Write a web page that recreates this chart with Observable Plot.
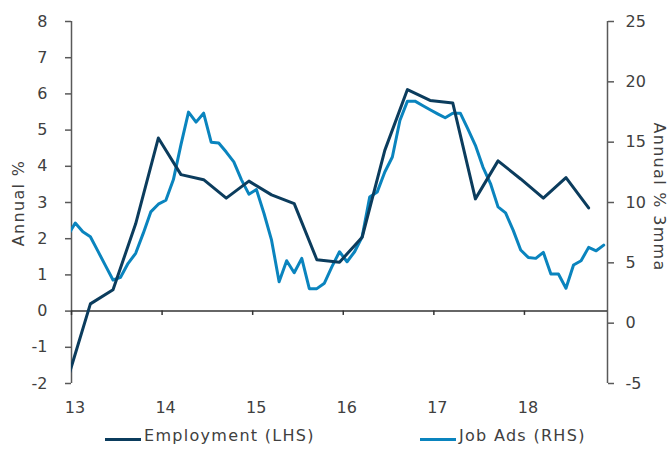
<!DOCTYPE html>
<html>
<head>
<meta charset="utf-8">
<script src="https://cdn.jsdelivr.net/npm/d3@7"></script>
<script src="https://cdn.jsdelivr.net/npm/@observablehq/plot@0.6"></script>
<style>
  html, body { margin: 0; padding: 0; background: #fff; }
  #wrap { position: relative; width: 668px; height: 450px; overflow: hidden; font-family: "DejaVu Sans", sans-serif; }
  .leg { position: absolute; top: 425px; height: 20px; display: flex; align-items: center; font-size: 16px; color: #404040; letter-spacing: 1.3px; white-space: nowrap; }
  .sw { width: 36px; height: 3px; margin-right: 3px; margin-top: 8px; }
</style>
</head>
<body>
<div id="wrap"></div>
<script>
// ---- Data ----
// Employment, annual % (LHS), quarterly
const employmentMonths = ["2012-12","2013-03","2013-06","2013-09","2013-12","2014-03","2014-06","2014-09","2014-12",
  "2015-03","2015-06","2015-09","2015-12","2016-03","2016-06","2016-09","2016-12",
  "2017-03","2017-06","2017-09","2017-12","2018-03","2018-06","2018-09"];
const employment = [-1.87, 0.2, 0.59, 2.41, 4.78, 3.77, 3.63, 3.12, 3.59,
  3.21, 2.97, 1.42, 1.35, 2.04, 4.44, 6.12, 5.82,
  5.75, 3.10, 4.15, 3.65, 3.12, 3.69, 2.85];

// Job Ads, annual % 3mma (RHS), monthly from Dec 2012
const jobAdsStart = "2012-12";
const jobAds = [7.25,
  8.3, 7.57, 7.16, 5.97, 4.77, 3.58, 3.8, 4.96, 5.79, 7.44, 9.22, 9.86,
  10.19, 11.9, 14.8, 17.49, 16.66, 17.4, 15.0, 14.93, 14.18, 13.36, 11.9, 10.69,
  11.07, 9.09, 6.88, 3.44, 5.17, 4.18, 5.37, 2.86, 2.86, 3.31, 4.68, 5.92,
  5.09, 5.92, 7.16, 10.46, 10.88, 12.53, 13.77, 16.8, 18.4, 18.4, 18.04, 17.69,
  17.35, 17.02, 17.4, 17.4, 16.1, 14.74, 12.94, 11.57, 9.64, 9.14, 7.71, 6.06,
  5.45, 5.37, 5.87, 4.07, 4.07, 2.89, 4.82, 5.17, 6.28, 6.0, 6.47];

const years = [2013, 2014, 2015, 2016, 2017, 2018];
const yearLabels = ["13", "14", "15", "16", "17", "18"];
const lhsTicks = [-2, -1, 0, 1, 2, 3, 4, 5, 6, 7, 8];
const rhsTicks = [-5, 0, 5, 10, 15, 20, 25];
const seriesNames = ["Employment (LHS)", "Job Ads (RHS)"];
const colors = ["#0b3c5d", "#0a84be"];

// ---- Helpers ----
const monthPos = s => { const [y, m] = s.split("-").map(Number); return y + (m - 0.5) / 12; };
const toL = w => (w + 5) / 3 - 2;     // RHS [-5,25] -> LHS [-2,8]
const fromL = v => (v + 2) * 3 - 5;

const empData = employmentMonths.map((m, i) => ({x: monthPos(m), y: employment[i]}));
const [sy, sm] = jobAdsStart.split("-").map(Number);
const jobData = jobAds.map((w, i) => {
  const mm = sm - 1 + i;
  const yy = sy + Math.floor(mm / 12);
  const mo = (mm % 12) + 1;
  return {x: monthPos(yy + "-" + String(mo).padStart(2, "0")), y: toL(w)};
});

const xDomain = [2013, 2013 + 71 / 12];

const chart = Plot.plot({
  width: 668,
  height: 425,
  marginLeft: 71,
  marginRight: 61,
  marginTop: 21,
  marginBottom: 42,
  x: {domain: xDomain},
  y: {domain: [-2, 8]},
  style: {fontFamily: "DejaVu Sans, sans-serif", fontSize: "16px", color: "#404040", background: "#fff"},
  marks: [
    Plot.axisY({anchor: "left", ticks: lhsTicks, tickFormat: d => String(d), tickSize: 6, tickPadding: 18, label: null, stroke: "#595959", strokeWidth: 1.5}),
    Plot.axisY({anchor: "right", ticks: rhsTicks.map(toL), tickFormat: d => String(Math.round(fromL(d))), tickSize: 6, tickPadding: 12, label: null, stroke: "#595959", strokeWidth: 1.5}),
    Plot.axisX({anchor: "bottom", ticks: years, tickFormat: d => yearLabels[years.indexOf(d)], tickSize: 0, tickPadding: 18, dx: 3.5, label: null}),
    Plot.ruleX([xDomain[0]], {stroke: "#595959", strokeWidth: 1.5}),
    Plot.ruleX([xDomain[1]], {stroke: "#595959", strokeWidth: 1.5}),
    Plot.ruleY([0], {stroke: "#333", strokeWidth: 1.5}),
    Plot.ruleX(years, {x: d => d, y1: 0, y2: -0.12, stroke: "#333", strokeWidth: 1.5}),
    Plot.line(jobData, {x: "x", y: "y", stroke: colors[1], strokeWidth: 3, clip: true}),
    Plot.line(empData, {x: "x", y: "y", stroke: colors[0], strokeWidth: 3, clip: true})
  ]
});

const svg = d3.select(chart);
svg.append("text")
  .attr("transform", "translate(24,203) rotate(-90)")
  .attr("text-anchor", "middle")
  .attr("fill", "#404040")
  .style("letter-spacing", "1.3px")
  .text("Annual %");
svg.append("text")
  .attr("transform", "translate(654,197) rotate(90)")
  .attr("text-anchor", "middle")
  .attr("fill", "#404040")
  .style("letter-spacing", "1.3px")
  .text("Annual % 3mma");

const wrap = document.getElementById("wrap");
wrap.appendChild(chart);

const legLefts = [105, 420];
seriesNames.forEach((name, i) => {
  const item = document.createElement("div");
  item.className = "leg";
  item.style.left = legLefts[i] + "px";
  const sw = document.createElement("span");
  sw.className = "sw";
  sw.style.background = colors[i];
  const t = document.createElement("span");
  t.textContent = name;
  item.appendChild(sw);
  item.appendChild(t);
  wrap.appendChild(item);
});
</script>
</body>
</html>
